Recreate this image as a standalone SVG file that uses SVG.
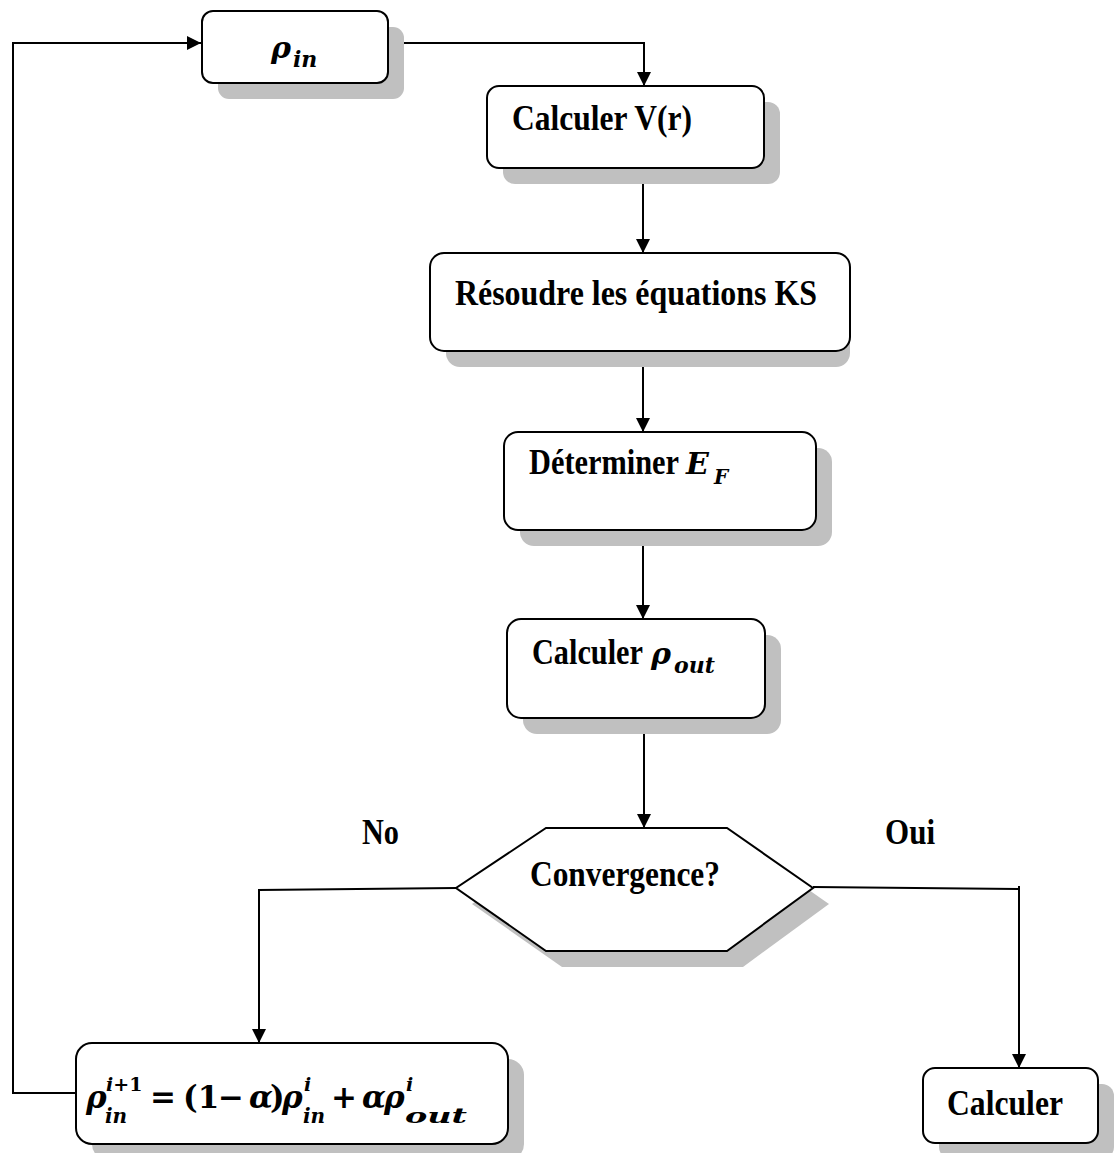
<svg xmlns="http://www.w3.org/2000/svg" width="1120" height="1153" viewBox="0 0 1120 1153">
<style>
.box{fill:#fff;stroke:#000;stroke-width:2}
.shd{fill:#c0c0c0;stroke:none}
.con{fill:none;stroke:#000;stroke-width:2}
.t{font-family:"Liberation Serif","Times New Roman",serif;font-weight:bold;font-size:35px;fill:#000}
.m{font-family:"DejaVu Serif","Liberation Serif",serif;font-weight:bold;font-style:italic;fill:#000}
.mu{font-family:"DejaVu Serif","Liberation Serif",serif;font-weight:bold;font-style:normal;fill:#000}
</style>
<defs>
<marker id="arr" markerUnits="userSpaceOnUse" markerWidth="14" markerHeight="14" refX="14" refY="7" orient="auto">
<path d="M0,0 L14,7 L0,14 z" fill="#000"/>
</marker>
</defs>
<rect width="1120" height="1153" fill="#fff"/>

<g id="connectors">
<path class="con" d="M78,1093 H13 V43 H201" marker-end="url(#arr)"/>
<path class="con" d="M388,43 H644 V86" marker-end="url(#arr)"/>
<path class="con" d="M643,168 V253" marker-end="url(#arr)"/>
<path class="con" d="M643,351 V432" marker-end="url(#arr)"/>
<path class="con" d="M643,530 V619" marker-end="url(#arr)"/>
<path class="con" d="M644,718 V828" marker-end="url(#arr)"/>
<path class="con" d="M456,888 L259,890 V1043" marker-end="url(#arr)"/>
<path class="con" d="M813,887 L1019,889 V1068" marker-end="url(#arr)"/>
<path class="con" d="M1019,886 V892"/>
</g>

<g id="node-rho-in">
<rect class="shd" x="218" y="27" width="186" height="72" rx="11"/>
<rect class="box" x="202" y="11" width="186" height="72" rx="11"/>
<text class="m" x="271" y="58" font-size="30">ρ</text>
<text class="m" x="293" y="67" font-size="22">in</text>
</g>

<g id="node-calc-v">
<rect class="shd" x="503" y="102" width="277" height="82" rx="12"/>
<rect class="box" x="487" y="86" width="277" height="82" rx="12"/>
<text class="t" x="512" y="130" textLength="180" lengthAdjust="spacingAndGlyphs">Calculer V(r)</text>
</g>

<g id="node-resoudre">
<rect class="shd" x="446" y="269" width="404" height="98" rx="14"/>
<rect class="box" x="430" y="253" width="420" height="98" rx="14"/>
<text class="t" x="455" y="305" textLength="362" lengthAdjust="spacingAndGlyphs">Résoudre les équations KS</text>
</g>

<g id="node-determiner">
<rect class="shd" x="520" y="448" width="312" height="98" rx="14"/>
<rect class="box" x="504" y="432" width="312" height="98" rx="14"/>
<text class="t" x="529" y="474" textLength="150" lengthAdjust="spacingAndGlyphs">Déterminer</text>
<text class="m" x="686" y="474" font-size="30">E</text>
<text class="m" x="714" y="484" font-size="20">F</text>
</g>

<g id="node-calc-rho-out">
<rect class="shd" x="523" y="635" width="258" height="99" rx="14"/>
<rect class="box" x="507" y="619" width="258" height="99" rx="14"/>
<text class="t" x="532" y="664" textLength="111" lengthAdjust="spacingAndGlyphs">Calculer</text>
<text class="m" x="651" y="664" font-size="30">ρ</text>
<text class="m" x="674" y="673" font-size="22">out</text>
</g>

<g id="node-convergence">
<polygon class="shd" points="562,844 743,844 829,904 743,967 562,967 472,904"/>
<polygon class="box" points="546,828 727,828 813,888 727,951 546,951 456,888"/>
<text class="t" x="530" y="886" font-size="33" textLength="190" lengthAdjust="spacingAndGlyphs">Convergence?</text>
</g>

<g id="label-no">
<text class="t" x="362" y="844" font-size="31" textLength="37" lengthAdjust="spacingAndGlyphs">No</text>
</g>
<g id="label-oui">
<text class="t" x="885" y="844" font-size="31" textLength="50" lengthAdjust="spacingAndGlyphs">Oui</text>
</g>

<g id="node-update">
<rect class="shd" x="92" y="1059" width="432" height="101" rx="16"/>
<rect class="box" x="76" y="1043" width="432" height="101" rx="16"/>
<text class="m" x="86" y="1108" font-size="31">ρ</text>
<text class="m" x="106" y="1091" font-size="19">i<tspan class="mu">+1</tspan></text>
<text class="m" x="105" y="1123" font-size="20">in</text>
<text class="mu" x="150" y="1108" font-size="31">=</text>
<text class="mu" x="183" y="1108" font-size="31">(1</text>
<text class="mu" x="218" y="1108" font-size="31">−</text>
<text class="m" x="249" y="1108" font-size="31">α</text>
<text class="mu" x="270" y="1108" font-size="31">)</text>
<text class="m" x="282" y="1108" font-size="31">ρ</text>
<text class="m" x="304" y="1091" font-size="19">i</text>
<text class="m" x="303" y="1123" font-size="20">in</text>
<text class="mu" x="331" y="1108" font-size="31">+</text>
<text class="m" x="362" y="1108" font-size="31">α</text>
<text class="m" x="384" y="1108" font-size="31">ρ</text>
<text class="m" x="406" y="1091" font-size="19">i</text>
<text class="m" x="405" y="1123" font-size="21" textLength="62" lengthAdjust="spacingAndGlyphs">out</text>
</g>

<g id="node-calculer">
<rect class="shd" x="939" y="1084" width="175" height="75" rx="12"/>
<rect class="box" x="923" y="1068" width="175" height="75" rx="12"/>
<text class="t" x="947" y="1115" textLength="116" lengthAdjust="spacingAndGlyphs">Calculer</text>
</g>
</svg>
